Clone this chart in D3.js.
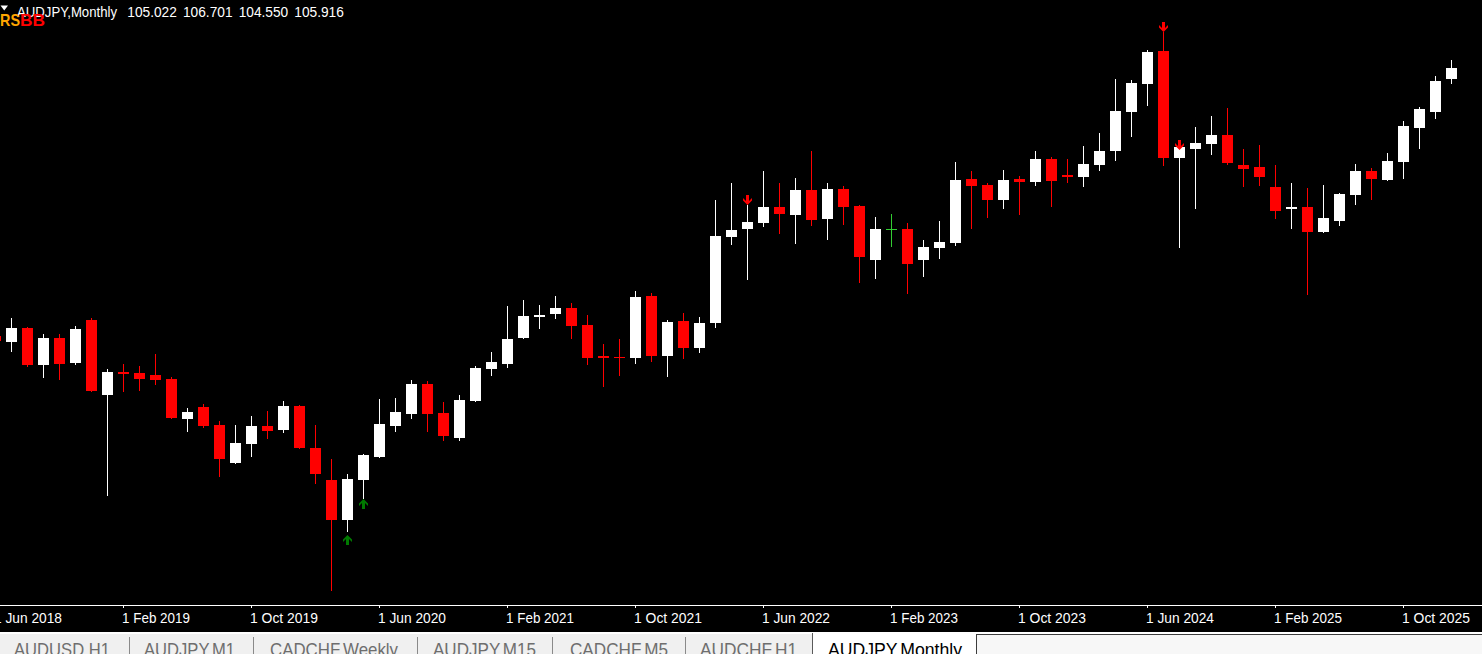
<!DOCTYPE html>
<html><head><meta charset="utf-8">
<script src="https://cdn.jsdelivr.net/npm/d3@7"></script>
<style>html,body{margin:0;padding:0;background:#000;overflow:hidden}svg{display:block}</style>
</head><body>
<svg id="c" width="1482" height="654"></svg>
<script>
// ---- data (AUDJPY monthly) ----
const months = [
 "2018-06","2018-07","2018-08","2018-09","2018-10","2018-11","2018-12",
 "2019-01","2019-02","2019-03","2019-04","2019-05","2019-06","2019-07","2019-08","2019-09","2019-10","2019-11","2019-12",
 "2020-01","2020-02","2020-03","2020-04","2020-05","2020-06","2020-07","2020-08","2020-09","2020-10","2020-11","2020-12",
 "2021-01","2021-02","2021-03","2021-04","2021-05","2021-06","2021-07","2021-08","2021-09","2021-10","2021-11","2021-12",
 "2022-01","2022-02","2022-03","2022-04","2022-05","2022-06","2022-07","2022-08","2022-09","2022-10","2022-11","2022-12",
 "2023-01","2023-02","2023-03","2023-04","2023-05","2023-06","2023-07","2023-08","2023-09","2023-10","2023-11","2023-12",
 "2024-01","2024-02","2024-03","2024-04","2024-05","2024-06","2024-07","2024-08","2024-09","2024-10","2024-11","2024-12",
 "2025-01","2025-02","2025-03","2025-04","2025-05","2025-06","2025-07","2025-08","2025-09","2025-10","2025-11","2025-12",
 "2026-01"];
const open = [
 82.35,81.82,83.05,79.79,82.17,79.97,83.76,
 77.15,79.17,79.09,78.91,78.56,75.03,76.09,74.51,71.16,72.83,74.42,74.07,
 76.18,72.48,69.66,66.14,69.66,71.69,74.42,75.47,78.12,75.56,73.36,76.62,
 79.44,79.88,82.17,84.02,84.28,84.81,83.32,80.58,80.50,80.41,85.87,80.58,
 83.67,81.29,83.49,91.07,91.77,92.30,93.71,93.01,95.21,92.65,95.30,93.80,
 89.04,91.75,91.77,89.04,90.10,90.54,96.18,95.65,94.33,96.18,95.92,97.94,
 96.53,96.35,97.41,98.65,102.08,104.55,107.46,98.03,98.82,99.26,100.06,97.41,
 97.24,95.47,93.54,93.71,91.51,92.48,94.77,96.88,96.09,97.68,100.67,102.08,
 105.022];
const high = [
 82.70,83.93,83.14,82.52,82.52,83.23,83.93,
 79.44,79.88,79.70,80.76,78.73,76.00,76.36,74.86,74.51,75.30,75.74,76.62,
 76.27,74.51,71.51,70.19,71.95,76.80,76.88,78.47,78.38,76.53,77.15,79.70,
 80.94,84.99,85.52,85.08,85.87,85.25,84.20,81.64,82.08,86.31,86.13,83.76,
 84.37,84.02,94.33,95.83,93.89,96.88,95.83,96.27,98.65,95.83,95.56,93.85,
 92.83,93.10,92.30,90.81,92.48,97.68,96.88,95.83,96.97,96.44,98.65,98.12,
 97.94,99.09,100.23,104.99,104.90,107.54,109.13,99.61,100.76,101.73,102.43,98.82,
 99.17,97.41,95.83,95.39,95.65,94.95,97.50,97.15,98.47,101.29,102.52,105.25,
 106.701];
const low = [
 81.55,80.94,79.62,78.65,78.47,79.79,77.45,
 68.25,77.41,77.50,78.03,75.03,73.89,74.24,69.92,71.07,71.69,73.27,73.80,
 72.39,69.31,59.91,65.08,67.99,71.60,73.89,75.03,73.89,73.10,73.10,76.53,
 78.82,79.53,82.10,82.96,83.84,82.08,79.79,77.85,78.82,79.88,80.06,78.73,
 80.32,80.85,83.05,90.36,87.28,91.95,91.33,90.45,92.04,90.81,92.13,87.02,
 87.37,90.19,86.05,87.54,89.13,90.28,91.77,92.74,93.54,93.01,95.56,93.71,
 95.83,95.47,96.88,97.77,99.88,102.61,97.32,90.10,93.54,98.29,97.41,95.47,
 95.56,92.65,91.77,85.96,91.45,92.04,93.89,94.33,96.00,96.18,98.82,101.47,
 104.550];
const close = [
 81.91,83.05,79.79,82.17,79.88,82.96,77.50,
 79.17,79.00,78.56,78.47,75.12,75.65,74.42,71.51,72.92,74.42,73.98,76.18,
 72.48,70.19,66.14,69.75,71.86,74.59,75.65,78.12,75.47,73.54,76.71,79.53,
 80.06,82.08,84.11,84.20,84.81,83.23,80.41,80.41,80.41,85.78,80.58,83.58,
 81.29,83.49,91.16,91.69,92.39,93.71,93.10,95.21,92.57,95.30,93.71,89.31,
 91.77,91.75,88.69,90.19,90.63,96.09,95.56,94.33,96.09,95.92,97.94,96.00,
 96.35,97.50,98.65,102.17,104.64,107.37,98.03,99.00,99.35,100.06,97.59,97.06,
 96.35,93.36,93.71,91.51,92.74,94.86,96.88,96.18,97.77,100.85,102.35,104.81,
 105.916];
// signal arrows (RSBB indicator)
const upSignalMonths = ["2020-04","2020-05"];
const upSignalPrices = [64.81, 67.99];
const downSignalMonths = ["2022-05","2024-07","2024-08"];
const downSignalPrices = [93.89, 109.13, 98.73];
// time axis
const tickMonths = ["2018-06","2019-02","2019-10","2020-06","2021-02","2021-10","2022-06","2023-02","2023-10","2024-06","2025-02","2025-10"];
const tickLabels = ["1 Jun 2018","1 Feb 2019","1 Oct 2019","1 Jun 2020","1 Feb 2021","1 Oct 2021","1 Jun 2022","1 Feb 2023","1 Oct 2023","1 Jun 2024","1 Feb 2025","1 Oct 2025"];
// header & tabs
const symbolTitle = "AUDJPY,Monthly";
const ohlcText = ["105.022","106.701","104.550","105.916"];
const tabNames = ["AUDUSD,H1","AUDJPY,M1","CADCHF,Weekly","AUDJPY,M15","CADCHF,M5","AUDCHF,H1","AUDJPY,Monthly"];

// ---- drawing ----
const W = 1482, H = 654;
const FONT = "'Liberation Sans', Arial, sans-serif";
const svg = d3.select("#c");
svg.append("rect").attr("width", W).attr("height", 632).attr("fill", "#000");

const x = d3.scaleBand().domain(months).range([-12.5, 1459.5]).paddingInner(5/16).paddingOuter(5/32);
const y = d3.scaleLinear().domain([111.95, 54.33]).rangeRound([0, 654]);
const bw = x.bandwidth();

const candles = months.map((m, i) => ({m, o: open[i], h: high[i], l: low[i], c: close[i]}));
const col = d => d.c > d.o ? "#ffffff" : (d.c < d.o ? "#ff0000" : "#32cd32");

const g = svg.append("g");
g.selectAll("line.wick").data(candles).join("line")
  .attr("class", "wick")
  .attr("x1", d => x(d.m) + bw / 2).attr("x2", d => x(d.m) + bw / 2)
  .attr("y1", d => y(d.h)).attr("y2", d => y(d.l))
  .attr("stroke", col).attr("stroke-width", 1);
g.selectAll("rect.body").data(candles).join("rect")
  .attr("class", "body")
  .attr("x", d => x(d.m)).attr("width", bw)
  .attr("y", d => y(Math.max(d.o, d.c)))
  .attr("height", d => Math.max(1, y(Math.min(d.o, d.c)) - y(Math.max(d.o, d.c))))
  .attr("fill", col);

// arrows
const upPath = (cx, ty) => `M${cx},${ty} L${cx+4.5},${ty+4.5} L${cx+4.5},${ty+7} L${cx+1.5},${ty+4} L${cx+1.5},${ty+10} L${cx-1.5},${ty+10} L${cx-1.5},${ty+4} L${cx-4.5},${ty+7} L${cx-4.5},${ty+4.5} Z`;
const dnPath = (cx, ty) => `M${cx},${ty} L${cx-4.5},${ty-4.5} L${cx-4.5},${ty-7} L${cx-1.5},${ty-4} L${cx-1.5},${ty-10} L${cx+1.5},${ty-10} L${cx+1.5},${ty-4} L${cx+4.5},${ty-7} L${cx+4.5},${ty-4.5} Z`;
g.selectAll("path.up").data(upSignalMonths).join("path")
  .attr("class", "up")
  .attr("d", (m, i) => upPath(x(m) + bw / 2, y(upSignalPrices[i])))
  .attr("fill", "#007a00");
g.selectAll("path.dn").data(downSignalMonths).join("path")
  .attr("class", "dn")
  .attr("d", (m, i) => dnPath(x(m) + bw / 2, y(downSignalPrices[i])))
  .attr("fill", "#ff0000");

// time axis
svg.append("line").attr("x1", 0).attr("x2", W).attr("y1", 605.5).attr("y2", 605.5).attr("stroke", "#fff");
const axis = d3.axisBottom(x).tickValues(tickMonths)
  .tickFormat(m => tickLabels[tickMonths.indexOf(m)]).tickSizeInner(3).tickSizeOuter(0);
const ag = svg.append("g").attr("transform", "translate(0,605)").call(axis);
ag.select(".domain").remove();
ag.selectAll(".tick line").attr("stroke", "#fff");
ag.selectAll(".tick text")
  .attr("fill", "#fff").attr("text-anchor", "start")
  .attr("x", -1.5).attr("y", 18.3).attr("dy", 0)
  .attr("font-family", FONT).attr("font-size", 15)
  .attr("textLength", 68).attr("lengthAdjust", "spacingAndGlyphs");

// header
svg.append("path").attr("d", "M0.5,5.5 L8,5.5 L4.25,10.5 Z").attr("fill", "#fff");
svg.append("text").attr("x", 17).attr("y", 16.5).attr("fill", "#fff")
  .attr("font-family", FONT).attr("font-size", 15.5)
  .attr("textLength", 100).attr("lengthAdjust", "spacingAndGlyphs").text(symbolTitle);
const ohlcX = [127.3, 183, 238.7, 294.3];
svg.selectAll("text.ohlc").data(ohlcText).join("text").attr("class", "ohlc")
  .attr("x", (d, i) => ohlcX[i]).attr("y", 16.5).attr("fill", "#fff")
  .attr("font-family", FONT).attr("font-size", 15.5)
  .attr("textLength", 49.5).attr("lengthAdjust", "spacingAndGlyphs").text(d => d);
svg.append("text").attr("x", 0).attr("y", 25.5).attr("fill", "#ffa500")
  .attr("font-family", FONT).attr("font-size", 17).attr("font-weight", "bold")
  .attr("textLength", 20).attr("lengthAdjust", "spacingAndGlyphs").text("RS");
svg.append("text").attr("x", 20).attr("y", 25.5).attr("fill", "#ff0000")
  .attr("font-family", FONT).attr("font-size", 17).attr("font-weight", "bold")
  .attr("textLength", 25).attr("lengthAdjust", "spacingAndGlyphs").text("BB");

// tab bar
const tb = svg.append("g");
tb.append("rect").attr("x", 0).attr("y", 632).attr("width", W).attr("height", 22).attr("fill", "#f0f0f0");
tb.append("rect").attr("x", 0).attr("y", 632).attr("width", W).attr("height", 2).attr("fill", "#ffffff");
tb.append("rect").attr("x", 813).attr("y", 632).attr("width", 163).attr("height", 22).attr("fill", "#ffffff");
tb.append("rect").attr("x", 976).attr("y", 634).attr("width", W - 976).attr("height", 20).attr("fill", "#f7f7f7");
tb.append("line").attr("x1", 976.5).attr("x2", W).attr("y1", 634.5).attr("y2", 634.5).attr("stroke", "#3c3c3c");
tb.append("line").attr("x1", 976.5).attr("x2", 976.5).attr("y1", 634).attr("y2", H).attr("stroke", "#3c3c3c");
tb.append("line").attr("x1", 812.5).attr("x2", 812.5).attr("y1", 633).attr("y2", H).attr("stroke", "#5a5a5a");
const sepX = [129.5, 253.5, 417.5, 552.5, 685.5];
tb.selectAll("line.sep").data(sepX).join("line").attr("class", "sep")
  .attr("x1", d => d).attr("x2", d => d).attr("y1", 637).attr("y2", H).attr("stroke", "#8a8a8a");
const tabX = [14, 144, 270, 433, 570, 700, 828];
const tabW = [96, 91, 128, 103, 98, 97, 134];
tb.selectAll("text.tab").data(tabNames).join("text").attr("class", "tab")
  .attr("x", (d, i) => tabX[i]).attr("y", 656)
  .attr("fill", (d, i) => i === tabNames.length - 1 ? "#000" : "#6e6e6e")
  .attr("font-family", FONT).attr("font-size", 19)
  .attr("textLength", (d, i) => tabW[i]).attr("lengthAdjust", "spacingAndGlyphs")
  .text(d => d);
</script>
</body></html>
